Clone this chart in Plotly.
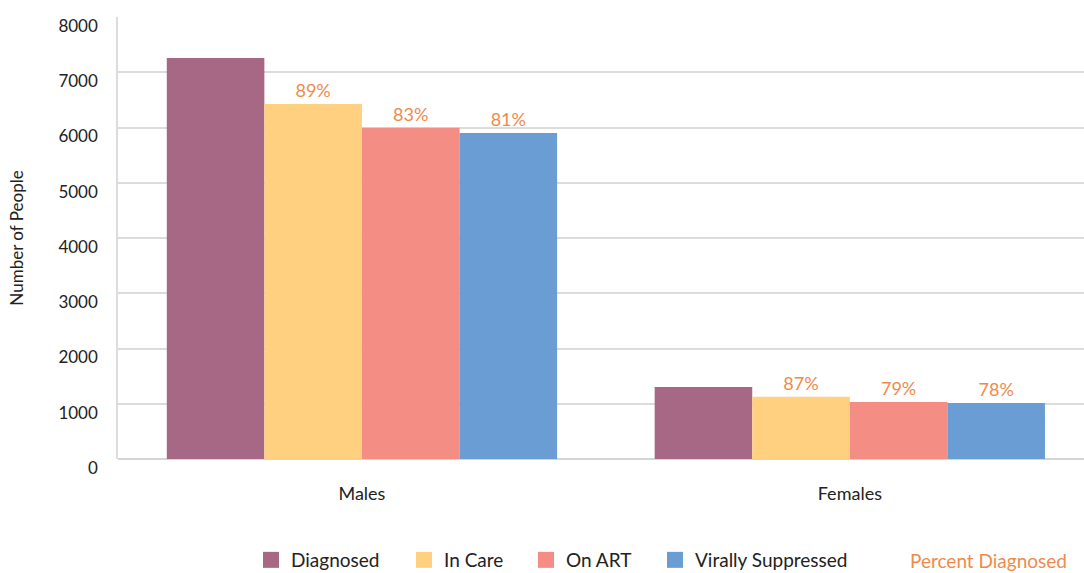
import plotly.graph_objects as go

categories = ["Males", "Females"]
series_names = ["Diagnosed", "In Care", "On ART", "Virally Suppressed"]
diagnosed = [7258, 1303]
in_care = [6425, 1125]
on_art = [5995, 1032]
virally_suppressed = [5900, 1014]
pct_labels_in_care = ["89%", "87%"]
pct_labels_on_art = ["83%", "79%"]
pct_labels_vs = ["81%", "78%"]
y_ticks = [0, 1000, 2000, 3000, 4000, 5000, 6000, 7000, 8000]

colors = ["#A66884", "#FED07F", "#F48D83", "#699DD3"]
orange = "#F08A4B"
text_color = "#222222"
font_family = "Lato, 'Open Sans', sans-serif"

values = [diagnosed, in_care, on_art, virally_suppressed]
texts = [None, pct_labels_in_care, pct_labels_on_art, pct_labels_vs]
legend_ids = ["legend", "legend2", "legend3", "legend4"]
legend_left_px = [251, 404, 526, 655]

PLOT_L, PLOT_R, PLOT_T, PLOT_B = 118, 1084, 17, 459
plot_w = PLOT_R - PLOT_L
plot_h = PLOT_B - PLOT_T

fig = go.Figure()
for name, vals, col, txt, lg in zip(series_names, values, colors, texts, legend_ids):
    fig.add_trace(go.Bar(
        x=categories, y=vals, name=name, marker=dict(color=col, line=dict(width=0)),
        text=txt, textposition="outside" if txt else None,
        textfont=dict(color=orange, size=18, family=font_family),
        cliponaxis=False, showlegend=False, legendgroup=name,
    ))
    # legend entry with a larger square swatch
    fig.add_trace(go.Scatter(
        x=[None], y=[None], mode="markers", name=name, legend=lg, legendgroup=name,
        marker=dict(symbol="square", size=22, color=col, line=dict(width=0)),
        showlegend=True, hoverinfo="skip",
    ))

legend_y = (PLOT_B - 560) / plot_h
legend_common = dict(orientation="h", xanchor="left", yanchor="middle", y=legend_y,
                     font=dict(size=19, color=text_color, family=font_family),
                     itemsizing="trace", bgcolor="rgba(0,0,0,0)")
layout_legends = {}
for lg, px in zip(legend_ids, legend_left_px):
    layout_legends[lg] = dict(legend_common, x=(px - PLOT_L) / plot_w)

fig.update_layout(
    width=1084, height=573,
    margin=dict(l=PLOT_L, r=1084 - PLOT_R, t=PLOT_T, b=573 - PLOT_B, autoexpand=False),
    paper_bgcolor="white", plot_bgcolor="white",
    barmode="group", bargap=0.2, bargroupgap=0,
    font=dict(family=font_family, color=text_color, size=17),
    showlegend=True,
    **layout_legends,
)
fig.update_xaxes(range=[-0.5, 1.48], showgrid=False, showline=False, ticks="",
                 automargin=False, ticklabelstandoff=22,
                 tickfont=dict(size=18, color=text_color))
fig.update_yaxes(range=[0, 8000], tickvals=y_ticks, showgrid=True, gridcolor="#DCDCDC",
                 gridwidth=1.5, zeroline=True, zerolinecolor="#D5D5D5", zerolinewidth=2,
                 showline=True, linecolor="#DCDCDC", linewidth=1.5,
                 ticks="", ticklabelstandoff=15, ticklabelshift=9, automargin=False,
                 ticklabeloverflow="allow",
                 tickfont=dict(size=17, color=text_color),
                 title=dict(text="Number of People", font=dict(size=17, color=text_color), standoff=30))
fig.add_annotation(text="Percent Diagnosed", xref="paper", yref="paper",
                   x=(908 - PLOT_L) / plot_w, xanchor="left", y=legend_y, yanchor="middle",
                   showarrow=False, font=dict(size=19, color=orange, family=font_family))

fig.write_html("out.html", config={"displayModeBar": False},
               post_script="document.body.style.margin='0';document.body.style.overflow='hidden';")
